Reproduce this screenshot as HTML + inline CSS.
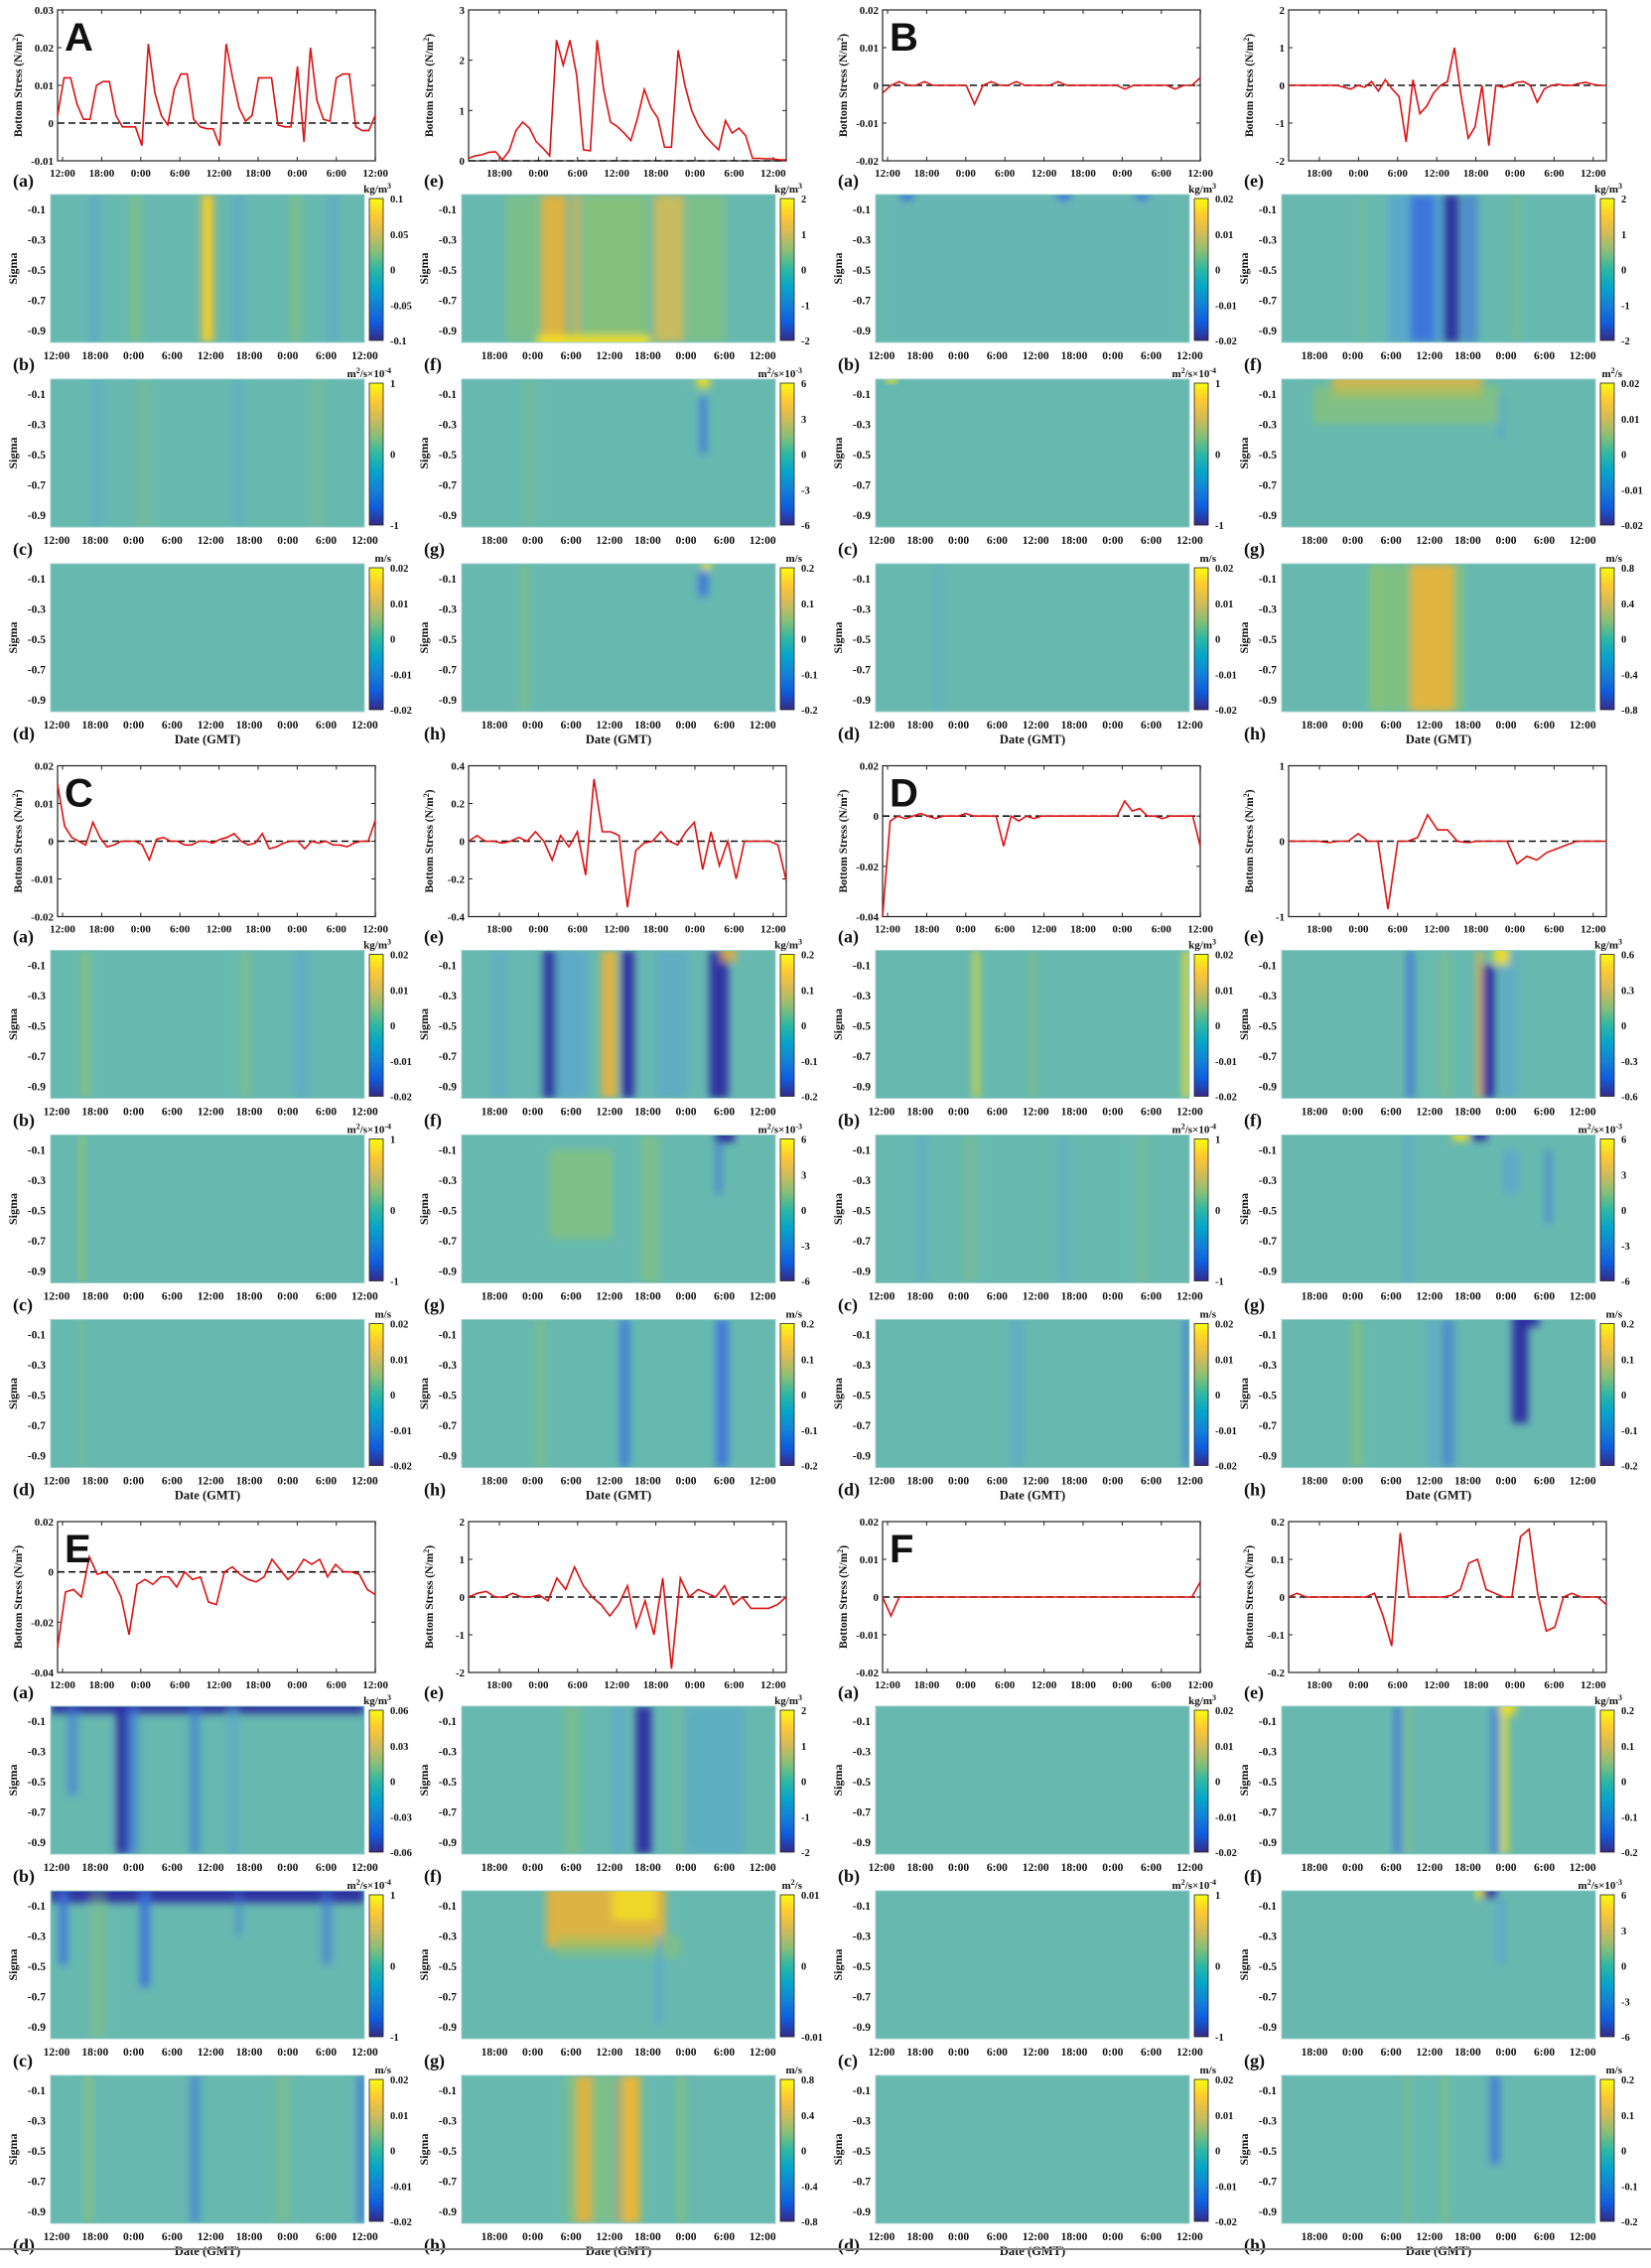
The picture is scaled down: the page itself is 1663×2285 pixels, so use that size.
<!DOCTYPE html>
<html><head><meta charset="utf-8"><style>
html,body{margin:0;padding:0;background:#fff;}
svg{display:block}
text{font-family:"Liberation Serif",serif;font-weight:bold;fill:#111}
</style></head><body>
<svg id="s" width="1663" height="2285" viewBox="0 0 1663 2285" xmlns="http://www.w3.org/2000/svg">
<defs>
<filter id="bl" x="-5%" y="-5%" width="110%" height="110%"><feGaussianBlur stdDeviation="4"/></filter>
<linearGradient id="cb" x1="0" y1="1" x2="0" y2="0">
<stop offset="0" stop-color="#352a87"/><stop offset="0.125" stop-color="#0f5cdd"/><stop offset="0.25" stop-color="#1481d6"/><stop offset="0.375" stop-color="#06a4ca"/><stop offset="0.5" stop-color="#2eb7a4"/><stop offset="0.625" stop-color="#87bf77"/><stop offset="0.75" stop-color="#d1bb59"/><stop offset="0.875" stop-color="#fec832"/><stop offset="1" stop-color="#f9fb0e"/>
</linearGradient>
</defs>
</svg>
<script>
const S=document.getElementById('s');const NS='http://www.w3.org/2000/svg';
let cid=0;
function add(tag,a,t,p){const e=document.createElementNS(NS,tag);for(const k in a)e.setAttribute(k,a[k]);if(t!==undefined)e.textContent=t;(p||S).appendChild(e);return e;}
function txt(x,y,s,size,anchor,extra){const e=add('text',Object.assign({x:x,y:y,'font-size':size,'text-anchor':anchor||'start'},extra||{}),s);return e;}
const cols=[0,414,831,1240], rows=[0,761.5,1523];
const TB='#67b9b0';
const BL='#3a6fe0',DB='#2a2aa0',LB='#55a2d6',YE='#f5e020',OR='#eab238',GR='#8ec46a';
function stressPlot(cx,ry,left,ymin,ymax,ticks,data,big){
  const x0=cx+58,y0=ry+10,w=320,h=152;
  add('rect',{x:x0,y:y0,width:w,height:h,fill:'#fff',stroke:'#222','stroke-width':1.2});
  const Y=v=>y0+h-(v-ymin)/(ymax-ymin)*h;
  ticks.forEach(v=>{const y=Y(v);txt(x0-4,y+4,String(v),11,'end');
    add('line',{x1:x0,x2:x0+4,y1:y,y2:y,stroke:'#222'});add('line',{x1:x0+w-4,x2:x0+w,y1:y,y2:y,stroke:'#222'});});
  const labs=left?['12:00','18:00','0:00','6:00','12:00','18:00','0:00','6:00','12:00']:['18:00','0:00','6:00','12:00','18:00','0:00','6:00','12:00'];
  const st=left?5:31;
  labs.forEach((l,i)=>{const x=x0+st+i*39.4;txt(x,y0+h+16,l,11,'middle');
    add('line',{x1:x,x2:x,y1:y0,y2:y0+4,stroke:'#222'});add('line',{x1:x,x2:x,y1:y0+h-4,y2:y0+h,stroke:'#222'});});
  add('line',{x1:x0,x2:x0+w,y1:Y(0),y2:Y(0),stroke:'#111','stroke-width':1.6,'stroke-dasharray':'7,4'});
  const pts=data.map((v,i)=>(x0+i*w/(data.length-1)).toFixed(1)+','+Y(v).toFixed(1)).join(' ');
  add('polyline',{points:pts,fill:'none',stroke:'#dd1111','stroke-width':1.6});
  const t=txt(cx+22,ry+86,'',11.5,'middle',{transform:`rotate(-90 ${cx+22} ${ry+86})`});
  t.innerHTML='Bottom Stress (N/m<tspan dy="-4" font-size="8">2</tspan><tspan dy="4">)</tspan>';
  if(big) add('text',{x:x0+7,y:y0+41,'font-size':40,style:'font-family:"Liberation Sans",sans-serif;font-weight:bold'},big);
  txt(cx+13,ry+188,left?'(a)':'(e)',18,'start');
}
function heat(cx,y0,left,k,unit,cticks,bands,letter){
  const x0=cx+51,w=316,h=149;
  cid++;
  const cp=add('clipPath',{id:'c'+cid});add('rect',{x:x0,y:y0,width:w,height:h},undefined,cp);
  add('rect',{x:x0,y:y0,width:w,height:h,fill:TB});
  const g=add('g',{'clip-path':`url(#c${cid})`});
  const g2=add('g',{filter:'url(#bl)'},undefined,g);
  bands.forEach(b=>{const [c,wd,col,op,ya,yb]=b;add('rect',{x:x0+(c-wd/2)*w,y:y0+(ya||0)*h,width:wd*w,height:((yb===undefined?1:yb)-(ya||0))*h,fill:col,opacity:op===undefined?0.9:op},undefined,g2);});
  add('rect',{x:x0,y:y0,width:w,height:h,fill:'none',stroke:'#9ccfcb','stroke-width':1});
  ['-0.1','-0.3','-0.5','-0.7','-0.9'].forEach((l,i)=>txt(x0-5,y0+15+i*30.5+4,l,11.5,'end'));
  txt(cx+17,y0+h/2,'Sigma',12,'middle',{transform:`rotate(-90 ${cx+17} ${y0+h/2})`});
  const labs=left?['12:00','18:00','0:00','6:00','12:00','18:00','0:00','6:00','12:00']:['18:00','0:00','6:00','12:00','18:00','0:00','6:00','12:00'];
  const st=left?6:33, sp=left?38.8:38.6;
  labs.forEach((l,i)=>txt(x0+st+i*sp,y0+h+17,l,11.5,'middle'));
  const bx=x0+w+5,by=y0+4,bh=143;
  add('rect',{x:bx,y:by,width:14,height:bh,fill:'url(#cb)',stroke:'#222','stroke-width':0.8});
  cticks.forEach((v,i)=>txt(bx+21,by+i*bh/(cticks.length-1)+4,String(v),10.5,'start'));
  const u=txt(bx+22,by-6,'',11,'end');u.innerHTML=unit;
  txt(cx+13,y0+h+28,letter,18,'start');
  if(k===2) txt(x0+w/2,y0+h+32,'Date (GMT)',12.5,'middle');
}
const KG='kg/m<tspan dy="-4" font-size="8">3</tspan>';
const M4='m<tspan dy="-4" font-size="8">2</tspan><tspan dy="4">/s×10</tspan><tspan dy="-4" font-size="8">-4</tspan>';
const M3='m<tspan dy="-4" font-size="8">2</tspan><tspan dy="4">/s×10</tspan><tspan dy="-4" font-size="8">-3</tspan>';
const M2='m<tspan dy="-4" font-size="8">2</tspan><tspan dy="4">/s</tspan>';
const MS='m/s';
const T02=[0.02,0.01,0,-0.01,-0.02], T1=[1,0,-1], T6=[6,3,0,-3,-6], T2=[2,1,0,-1,-2], T8=[0.8,0.4,0,-0.4,-0.8], T20=[0.2,0.1,0,-0.1,-0.2];
const faint=[[0.15,0.04,LB,0.35],[0.3,0.05,GR,0.25],[0.6,0.04,LB,0.3],[0.85,0.05,GR,0.25]];
const P=[
{big:'A',left:{ymin:-0.01,ymax:0.03,t:[0.03,0.02,0.01,0,-0.01],d:[0.002,0.012,0.012,0.005,0.001,0.001,0.01,0.011,0.011,0.002,-0.001,-0.001,-0.001,-0.006,0.021,0.008,0.002,-0.0005,0.009,0.013,0.013,0.001,-0.001,-0.0015,-0.0015,-0.006,0.021,0.012,0.004,0.0005,0.002,0.012,0.012,0.012,-0.0005,-0.001,-0.001,0.015,-0.005,0.02,0.006,0.001,0.0005,0.012,0.013,0.013,-0.001,-0.002,-0.002,0.002],
 h:[[KG,[0.1,0.05,0,-0.05,-0.1],[[0.14,0.03,LB,0.6],[0.27,0.04,GR,0.45],[0.6,0.04,LB,0.5],[0.78,0.04,GR,0.45],[0.9,0.03,LB,0.5],[0.5,0.04,OR,0.95],[0.5,0.018,YE,1]]],[M4,T1,faint],[MS,T02,[]]]},
 right:{ymin:0,ymax:3,t:[3,2,1,0],d:[0.05,0.1,0.12,0.17,0.18,0.02,0.2,0.6,0.77,0.65,0.38,0.25,0.1,2.4,1.9,2.4,1.7,0.22,0.2,2.4,1.4,0.77,0.68,0.55,0.4,0.85,1.42,1.05,0.85,0.27,0.27,2.2,1.5,1.0,0.7,0.5,0.35,0.22,0.8,0.55,0.65,0.5,0.05,0.05,0.04,0.04,0.02,0.02],
 h:[[KG,T2,[[0.2,0.12,GR,0.5],[0.295,0.08,OR,0.9],[0.49,0.2,GR,0.75],[0.365,0.03,OR,0.7],[0.66,0.1,'#d8bc50',0.85],[0.78,0.12,GR,0.55],[0.42,0.36,YE,0.9,0.95,1.05]]],[M3,T6,[[0.22,0.05,GR,0.2],[0.77,0.02,BL,0.9,0.12,0.5],[0.77,0.04,YE,0.9,-0.05,0.06]]],[MS,T20,[[0.2,0.03,GR,0.4],[0.77,0.03,BL,0.9,0.05,0.22],[0.78,0.03,YE,0.9,-0.05,0.04]]]]}},
{big:'B',left:{ymin:-0.02,ymax:0.02,t:T02,d:[-0.002,0,0.001,0,0,0.001,0,0,0,0,0,-0.005,0,0.001,0,0,0.001,0,0,0,0,0.001,0,0,0,0,0,0,0,-0.001,0,0,0,0,0,-0.001,0,0,0.002],
 h:[[KG,T02,[[0.5,0.9,LB,0.1],[0.1,0.04,BL,0.9,-0.03,0.04],[0.6,0.04,BL,0.9,-0.03,0.04],[0.85,0.04,BL,0.8,-0.03,0.04]]],[M4,T1,[[0.05,0.04,YE,0.8,-0.05,0.03]]],[MS,T02,[[0.2,0.04,LB,0.25]]]]},
 right:{ymin:-2,ymax:2,t:T2,d:[0,0,0,0,0,0,0,0,-0.05,-0.1,0,-0.05,0.1,-0.15,0.15,-0.1,-0.3,-1.5,0.15,-0.75,-0.55,-0.2,0,0.1,1.0,-0.3,-1.4,-1.1,0,-1.6,0,-0.05,0,0.08,0.1,0,-0.45,-0.1,0,0.03,0,0,0.05,0.08,0.03,0,0]},
 rh:[[KG,T2,[[0.26,0.01,GR,0.6],[0.43,0.18,LB,0.7],[0.45,0.08,BL,0.85],[0.54,0.05,DB,0.95],[0.6,0.05,BL,0.6],[0.75,0.02,GR,0.4]]],[M2,T02,[[0.4,0.48,OR,0.8,-0.1,0.12],[0.4,0.6,GR,0.6,0.05,0.3],[0.7,0.02,LB,0.6,0.1,0.4]]],[MS,T8,[[0.43,0.3,GR,0.65],[0.45,0.08,OR,0.9],[0.52,0.06,OR,0.9],[0.3,0.04,GR,0.4]]]]},
{big:'C',left:{ymin:-0.02,ymax:0.02,t:T02,d:[0.015,0.004,0.001,0,-0.001,0.005,0.001,-0.0015,-0.001,0,0,0,-0.001,-0.005,0.0005,0.001,0,0,-0.001,-0.001,0,0,-0.0005,0.0005,0.001,0.002,0,-0.001,-0.0005,0.002,-0.002,-0.0015,-0.0005,0,0,-0.002,0,-0.0005,0,-0.001,-0.001,-0.0015,-0.0005,0,0,0.0055],
 h:[[KG,T02,[[0.11,0.03,GR,0.6],[0.62,0.04,GR,0.35],[0.8,0.04,LB,0.5]]],[M4,T1,[[0.1,0.03,GR,0.6]]],[MS,T02,[[0.1,0.03,GR,0.3]]]]},
 right:{ymin:-0.4,ymax:0.4,t:[0.4,0.2,0,-0.2,-0.4],d:[0,0.03,0,0,-0.01,0,0.02,0,0.05,0,-0.1,0.03,-0.03,0.05,-0.18,0.33,0.05,0.05,0.03,-0.35,-0.05,-0.01,0,0.05,0,-0.02,0.05,0.1,-0.15,0.05,-0.13,0,-0.2,0,0,0,0,-0.02,-0.21]},
 rh:[[KG,T20,[[0.12,0.05,LB,0.4],[0.28,0.04,DB,0.9],[0.35,0.1,LB,0.6],[0.47,0.05,OR,0.9],[0.53,0.04,DB,0.95],[0.67,0.1,LB,0.5],[0.82,0.06,DB,0.95],[0.85,0.05,OR,0.8,-0.05,0.08]]],[M3,T6,[[0.38,0.2,GR,0.6,0.1,0.7],[0.6,0.06,GR,0.5],[0.84,0.06,DB,0.95,-0.05,0.05],[0.82,0.02,BL,0.7,0.05,0.4]]],[MS,T20,[[0.25,0.03,GR,0.5],[0.52,0.03,BL,0.8],[0.83,0.04,BL,0.85]]]]},
{big:'D',left:{ymin:-0.04,ymax:0.02,t:[0.02,0,-0.02,-0.04],d:[-0.04,-0.002,0,-0.001,0,0.001,0,-0.001,0,0,0,0.001,0,0,0,0,-0.012,0,-0.002,0,-0.001,0,0,0,0,0,0,0,0,0,0,0,0.006,0.002,0.003,0,0,-0.001,0,0,0,0,-0.012],
 h:[[KG,T02,[[0.32,0.02,YE,0.7],[0.5,0.03,GR,0.35],[0.99,0.02,YE,0.9]]],[M4,T1,faint],[MS,T02,[[0.45,0.04,LB,0.5],[0.99,0.015,BL,0.9]]]]},
 right:{ymin:-1,ymax:1,t:[1,0,-1],d:[0,0,0,0,-0.02,0,0,0.1,0,0,-0.9,0,0,0.05,0.35,0.15,0.15,0,-0.02,0,0,0,0,-0.3,-0.2,-0.25,-0.15,-0.1,-0.05,0,0,0,0]},
 rh:[[KG,[0.6,0.3,0,-0.3,-0.6],[[0.41,0.02,BL,0.9],[0.52,0.04,GR,0.35],[0.63,0.02,OR,0.8],[0.66,0.04,DB,0.95,0.1,1.0],[0.72,0.06,LB,0.5],[0.7,0.05,YE,0.9,-0.05,0.1]]],[M3,T6,[[0.57,0.05,YE,0.9,-0.05,0.04],[0.63,0.05,DB,0.9,-0.05,0.04],[0.73,0.05,LB,0.6,0.1,0.4],[0.85,0.02,BL,0.6,0.1,0.6],[0.4,0.03,LB,0.5]]],[MS,T20,[[0.24,0.03,GR,0.6],[0.48,0.03,LB,0.6],[0.53,0.04,BL,0.6],[0.76,0.05,DB,0.95,-0.05,0.7],[0.79,0.06,DB,0.9,-0.05,0.05]]]]},
{big:'E',left:{ymin:-0.04,ymax:0.02,t:[0.02,0,-0.02,-0.04],d:[-0.03,-0.008,-0.007,-0.01,0.006,-0.001,0,-0.003,-0.01,-0.025,-0.005,-0.003,-0.005,-0.002,-0.002,-0.006,0,-0.003,-0.002,-0.012,-0.013,0,0.002,-0.001,-0.003,-0.004,-0.002,0.005,0.001,-0.003,0,0.005,0.003,0.005,-0.002,0.003,0,0,-0.001,-0.007,-0.009],
 h:[[KG,[0.06,0.03,0,-0.03,-0.06],[[0.5,1,DB,0.9,-0.05,0.05],[0.23,0.04,DB,0.95],[0.26,0.04,BL,0.6],[0.07,0.03,BL,0.6,0,0.6],[0.46,0.03,BL,0.6],[0.58,0.03,LB,0.6]]],[M4,T1,[[0.5,1,DB,0.95,-0.05,0.08],[0.04,0.025,BL,0.9,0,0.5],[0.3,0.03,BL,0.9,0,0.65],[0.6,0.02,BL,0.5,0,0.3],[0.88,0.03,BL,0.6,0,0.5],[0.15,0.05,GR,0.35]]],[MS,T02,[[0.12,0.02,GR,0.8],[0.46,0.03,BL,0.6],[0.74,0.05,GR,0.35],[0.99,0.02,BL,0.9]]]]},
 right:{ymin:-2,ymax:2,t:T2,d:[0,0.1,0.15,0,0,0.1,0,0,0.05,-0.1,0.5,0.2,0.8,0.3,0,-0.2,-0.5,-0.2,0.3,-0.8,-0.1,-1.0,0.5,-1.9,0.5,0,0.2,0.1,0,0.3,-0.2,0,-0.3,-0.3,-0.3,-0.2,0]},
 rh:[[KG,T2,[[0.35,0.05,GR,0.4],[0.5,0.05,LB,0.5],[0.58,0.05,DB,0.95],[0.7,0.04,GR,0.3],[0.8,0.2,LB,0.45]]],[M2,[0.01,0,-0.01],[[0.46,0.38,OR,0.9,-0.05,0.38],[0.55,0.14,YE,0.8,-0.05,0.2],[0.5,0.4,GR,0.5,0.3,0.45],[0.63,0.02,LB,0.7,0.3,0.9]]],[MS,T8,[[0.42,0.18,GR,0.55],[0.39,0.05,OR,0.9],[0.535,0.06,YE,0.85],[0.53,0.08,OR,0.8],[0.7,0.02,GR,0.8],[0.5,0.03,LB,0.4]]]]},
{big:'F',left:{ymin:-0.02,ymax:0.02,t:T02,d:[0,-0.005,0,0,0,0,0,0,0,0,0,0,0,0,0,0,0,0,0,0,0,0,0,0,0,0,0,0,0,0,0,0,0,0,0,0,0,0,0.004],
 h:[[KG,T02,[]],[M4,T1,[]],[MS,T02,[]]]},
 right:{ymin:-0.2,ymax:0.2,t:T20,d:[0,0.01,0,0,0,0,0,0,0,0,0.01,-0.05,-0.13,0.17,0,0,0,0,0,0.005,0.02,0.09,0.1,0.02,0.01,0,0,0.16,0.18,0.01,-0.09,-0.08,0,0.01,0,0,0,-0.02]},
 rh:[[KG,T20,[[0.37,0.02,BL,0.9],[0.4,0.03,GR,0.4],[0.71,0.02,YE,0.9],[0.68,0.02,BL,0.9],[0.72,0.05,YE,0.9,-0.05,0.06]]],[M3,T6,[[0.66,0.05,DB,0.9,-0.05,0.05],[0.63,0.03,YE,0.8,-0.05,0.05],[0.7,0.03,LB,0.6,0.05,0.5]]],[MS,T20,[[0.52,0.02,GR,0.6],[0.68,0.03,BL,0.8,0,0.6],[0.4,0.03,GR,0.3]]]]}
];
P.forEach((g,i)=>{
  const ry=rows[Math.floor(i/2)], gc=(i%2)*2;
  [0,1].forEach(side=>{
    const cx=cols[gc+side], left=side===0;
    const sp=left?g.left:g.right;
    stressPlot(cx,ry,left,sp.ymin,sp.ymax,sp.t,sp.d,left?g.big:null);
    const hs=left?g.left.h:(g.rh||g.right.h);
    const letters=left?['(b)','(c)','(d)']:['(f)','(g)','(h)'];
    hs.forEach((hh,k)=>heat(cx,ry+196+k*186,left,k,hh[0],hh[1],hh[2],letters[k]));
  });
});
add('line',{x1:0,x2:1663,y1:2266,y2:2266,stroke:'#888','stroke-width':2});
</script>
</body></html>
